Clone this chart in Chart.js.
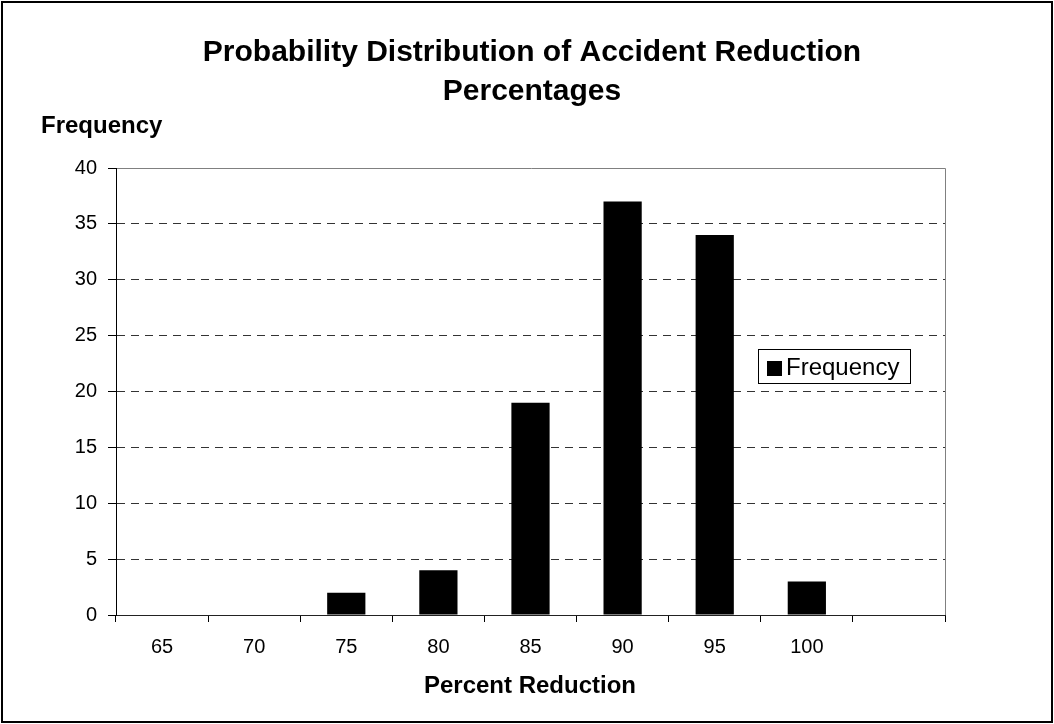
<!DOCTYPE html>
<html>
<head>
<meta charset="utf-8">
<script src="https://cdn.jsdelivr.net/npm/chart.js@4.4.1/dist/chart.umd.min.js"></script>
<style>
  html, body { margin: 0; padding: 0; background: #fff; }
  #wrap { width: 1054px; height: 724px; position: relative; }
</style>
</head>
<body>
<div id="wrap"><canvas id="c" width="1054" height="724"></canvas></div>
<script>
// Histogram bins (percent reduction) and their counts
const categories = ['65', '70', '75', '80', '85', '90', '95', '100', ''];
const frequency = [0, 0, 2, 4, 19, 37, 34, 3, 0];
const yTicks = [0, 5, 10, 15, 20, 25, 30, 35, 40];

const titleLines = ['Probability Distribution of Accident Reduction', 'Percentages'];
const yTitle = 'Frequency';
const xTitle = 'Percent Reduction';
const FONT = '"Liberation Sans", Arial, sans-serif';

// Frame, headings, plot edges and the in-plot legend
const decorations = {
  id: 'decorations',
  afterDraw(chart) {
    const ctx = chart.ctx;
    const a = chart.chartArea;
    ctx.save();
    // outer frame
    ctx.strokeStyle = '#000';
    ctx.lineWidth = 2;
    ctx.strokeRect(2, 2, chart.width - 4, chart.height - 4);
    // top and right edges of the plot
    ctx.strokeStyle = '#808080';
    ctx.lineWidth = 1;
    ctx.beginPath();
    ctx.moveTo(a.left + 1, Math.round(a.top) + 0.5);
    ctx.lineTo(Math.round(a.right) + 0.5, Math.round(a.top) + 0.5);
    ctx.lineTo(Math.round(a.right) + 0.5, a.bottom);
    ctx.stroke();
    // title
    ctx.fillStyle = '#000';
    ctx.textAlign = 'center';
    ctx.textBaseline = 'middle';
    ctx.font = 'bold 30px ' + FONT;
    ctx.fillText(titleLines[0], 532, 53);
    ctx.fillText(titleLines[1], 532, 92);
    // y title
    ctx.font = 'bold 24px ' + FONT;
    ctx.textAlign = 'left';
    ctx.fillText(yTitle, 41, 126);
    // x title
    ctx.textAlign = 'center';
    ctx.fillText(xTitle, 530, 686);
    // legend
    const lx = 758, ly = 349, lw = 152, lh = 34;
    ctx.fillStyle = '#fff';
    ctx.fillRect(lx, ly, lw, lh);
    ctx.strokeStyle = '#000';
    ctx.lineWidth = 1;
    ctx.strokeRect(lx + 0.5, ly + 0.5, lw, lh);
    ctx.fillStyle = '#000';
    ctx.fillRect(lx + 9, ly + 12, 15, 15);
    ctx.font = '24px ' + FONT;
    ctx.textAlign = 'left';
    ctx.fillText(chart.data.datasets[0].label, lx + 28, ly + 19);
    ctx.restore();
  }
};

new Chart(document.getElementById('c'), {
  type: 'bar',
  data: {
    labels: categories,
    datasets: [{
      label: 'Frequency',
      data: frequency,
      backgroundColor: '#000',
      borderWidth: 0,
      barPercentage: 0.415,
      categoryPercentage: 1
    }]
  },
  options: {
    responsive: false,
    animation: false,
    layout: { padding: { left: 0, top: 168, right: 109, bottom: 0 } },
    plugins: { legend: { display: false }, title: { display: false }, tooltip: { enabled: false } },
    scales: {
      x: {
        grid: {
          offset: true,
          drawOnChartArea: false,
          color: '#000',
          tickLength: 7
        },
        border: { color: '#222', width: 1 },
        ticks: {
          color: '#000',
          font: { family: FONT, size: 20 },
          padding: 13,
          maxRotation: 0
        },
        afterFit(scale) { scale.height = 109; }
      },
      y: {
        min: 0,
        max: 40,
        afterBuildTicks(scale) { scale.ticks = yTicks.map(v => ({ value: v })); },
        grid: {
          color: '#333',
          tickColor: '#000',
          tickBorderDash: [],
          tickLength: 8
        },
        border: { color: '#000', width: 1, dash: [8, 6] },
        ticks: {
          color: '#000',
          font: { family: FONT, size: 20 },
          padding: 11
        },
        afterFit(scale) { scale.width = 116; }
      }
    }
  },
  plugins: [decorations]
});
</script>
</body>
</html>
